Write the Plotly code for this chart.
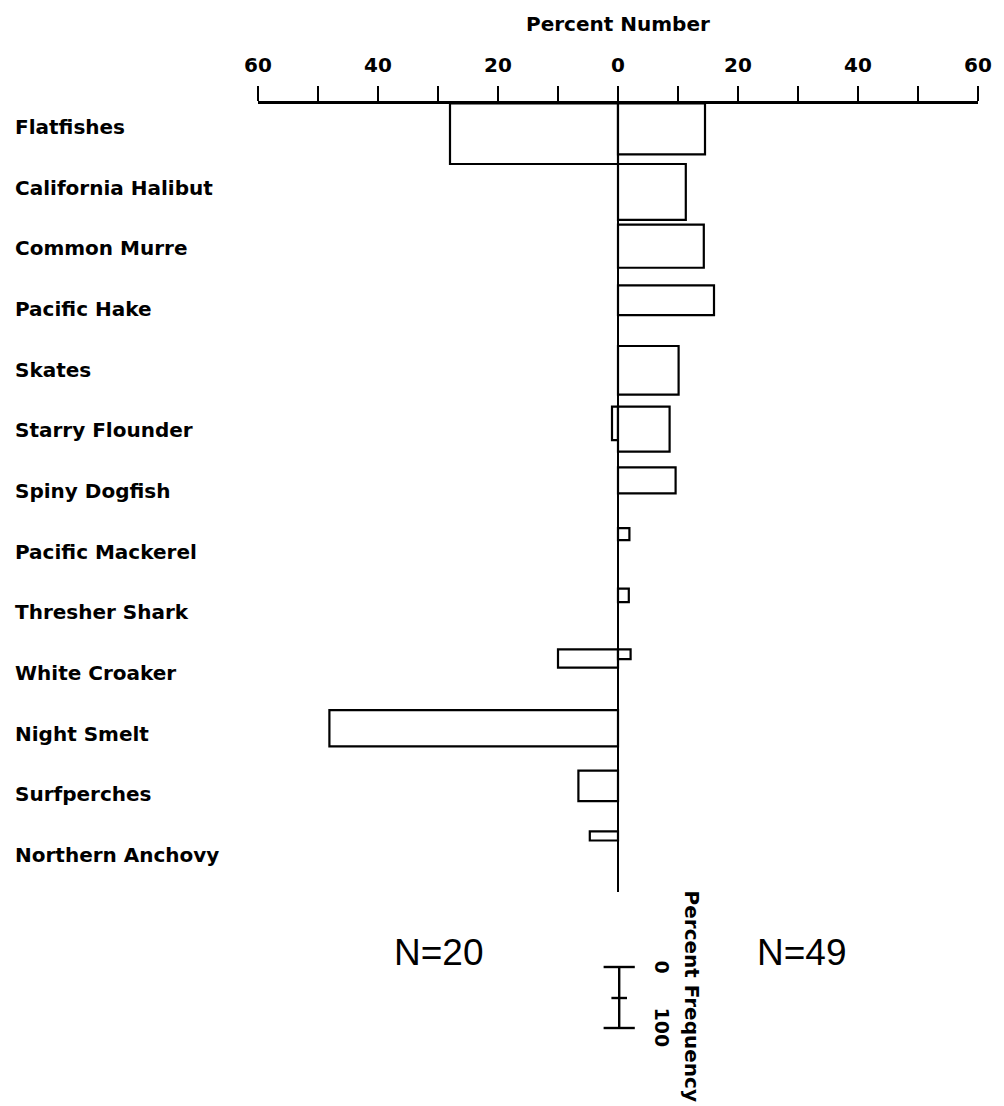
import plotly.graph_objects as go

# ---------------- data ----------------
categories = ["Flatfishes", "California Halibut", "Common Murre", "Pacific Hake",
              "Skates", "Starry Flounder", "Spiny Dogfish", "Pacific Mackerel",
              "Thresher Shark", "White Croaker", "Night Smelt", "Surfperches",
              "Northern Anchovy"]

# Left side (N=20): percent number and percent frequency (bar thickness)
left_number = [28.0, 0, 0, 0, 0, 1.0, 0, 0, 0, 10.0, 48.1, 6.6, 4.7]
left_freq   = [100, 0, 0, 0, 0, 55, 0, 0, 0, 30, 60, 50, 15]

# Right side (N=49)
right_number = [14.5, 11.3, 14.3, 16.0, 10.1, 8.6, 9.6, 1.9, 1.8, 2.1, 0, 0, 0]
right_freq   = [84, 92, 71, 49, 80, 74, 43, 20, 22, 16, 0, 0, 0]

tick_values = [-60, -50, -40, -30, -20, -10, 0, 10, 20, 30, 40, 50, 60]
tick_labels = ["60", "", "40", "", "20", "", "0", "", "20", "", "40", "", "60"]

n_left, n_right = 20, 49
freq_scale_labels = ["0", "100"]

# ---------------- figure ----------------
W, H = 1004, 1106
ML, MR, MT, MB = 258, 14, 104, 214
plot_h = H - MT - MB

def py(pix):
    """pixel row -> paper y"""
    return (H - MB - pix) / plot_h

OFFSET = -0.39

fig = go.Figure()

lx, ly, lw = [], [], []
for i, (v, f) in enumerate(zip(left_number, left_freq)):
    if v > 0 and f > 0:
        lx.append(-v); ly.append(i); lw.append(f / 100)
rx, ry, rw = [], [], []
for i, (v, f) in enumerate(zip(right_number, right_freq)):
    if v > 0 and f > 0:
        rx.append(v); ry.append(i); rw.append(f / 100)

bar_style = dict(color="white", line=dict(color="black", width=2.2))
fig.add_trace(go.Bar(x=lx, y=ly, width=lw, offset=OFFSET, orientation="h",
                     marker=bar_style, hoverinfo="skip", showlegend=False))
fig.add_trace(go.Bar(x=rx, y=ry, width=rw, offset=OFFSET, orientation="h",
                     marker=bar_style, hoverinfo="skip", showlegend=False))

BOLD = "DejaVu Sans"
label_font = dict(family=BOLD, size=20, color="black", weight="bold")

annotations = []
for i, c in enumerate(categories):
    annotations.append(dict(x=(9 - ML) / (W - ML - MR), xref="paper", xanchor="left",
                            y=i, yref="y", yanchor="middle", text=c, showarrow=False,
                            font=label_font))

# title
annotations.append(dict(x=0, xref="x", xanchor="center", y=py(24), yref="paper",
                        yanchor="middle", text="Percent Number", showarrow=False,
                        font=dict(family=BOLD, size=20, color="black", weight="bold")))
# N labels
nfont = dict(family="Liberation Sans", size=37, color="black")
annotations.append(dict(x=-30, xref="x", y=py(953), yref="paper", yanchor="middle",
                        text=f"N={n_left}", showarrow=False, font=nfont))
annotations.append(dict(x=30.5, xref="x", y=py(953), yref="paper", yanchor="middle",
                        text=f"N={n_right}", showarrow=False, font=nfont))
# frequency scale labels
sfont = dict(family=BOLD, size=19, color="black", weight="bold")
annotations.append(dict(x=7.4, xref="x", y=py(967), yref="paper", yanchor="middle",
                        text=freq_scale_labels[0], textangle=90, showarrow=False,
                        font=sfont))
annotations.append(dict(x=7.4, xref="x", y=py(1028), yref="paper", yanchor="middle",
                        text=freq_scale_labels[1], textangle=90, showarrow=False,
                        font=sfont))
annotations.append(dict(x=12.4, xref="x", y=py(996), yref="paper", yanchor="middle",
                        text="Percent Frequency", textangle=90, showarrow=False,
                        font=dict(family=BOLD, size=20, color="black", weight="bold")))

shapes = []
lw_ = 2.4
# frequency scale bar: 100% = one row height
shapes.append(dict(type="line", xref="x", yref="paper", x0=0.2, x1=0.2,
                   y0=py(967), y1=py(1028), line=dict(color="black", width=lw_)))
for pix, half in [(967, 2.6), (1028, 2.6), (998, 1.3)]:
    shapes.append(dict(type="line", xref="x", yref="paper", x0=0.2 - half, x1=0.2 + half,
                       y0=py(pix), y1=py(pix), line=dict(color="black", width=lw_)))

fig.update_layout(
    width=W, height=H,
    margin=dict(l=ML, r=MR, t=MT, b=MB),
    paper_bgcolor="white", plot_bgcolor="white",
    barmode="overlay",
    annotations=annotations, shapes=shapes,
    xaxis=dict(range=[-60, 60], side="top", tickmode="array",
               tickvals=tick_values, ticktext=tick_labels,
               ticks="outside", ticklen=15, tickwidth=2.2, tickcolor="black",
               ticklabelstandoff=6,
               showline=True, linewidth=2.5, linecolor="black",
               showgrid=False, zeroline=True, zerolinecolor="black", zerolinewidth=2.4,
               tickfont=dict(family=BOLD, size=20, color="black", weight="bold"),
               fixedrange=True),
    yaxis=dict(range=[(H - MB - 127) / 60.67, (MT - 127) / 60.67],
               showticklabels=False, showgrid=False, zeroline=False, showline=False,
               ticks="", fixedrange=True),
    font=dict(family="DejaVu Sans", color="black"),
)

fig.write_html("out.html", config={"displayModeBar": False},
               post_script="document.body.style.margin='0';document.body.style.overflow='hidden';")
